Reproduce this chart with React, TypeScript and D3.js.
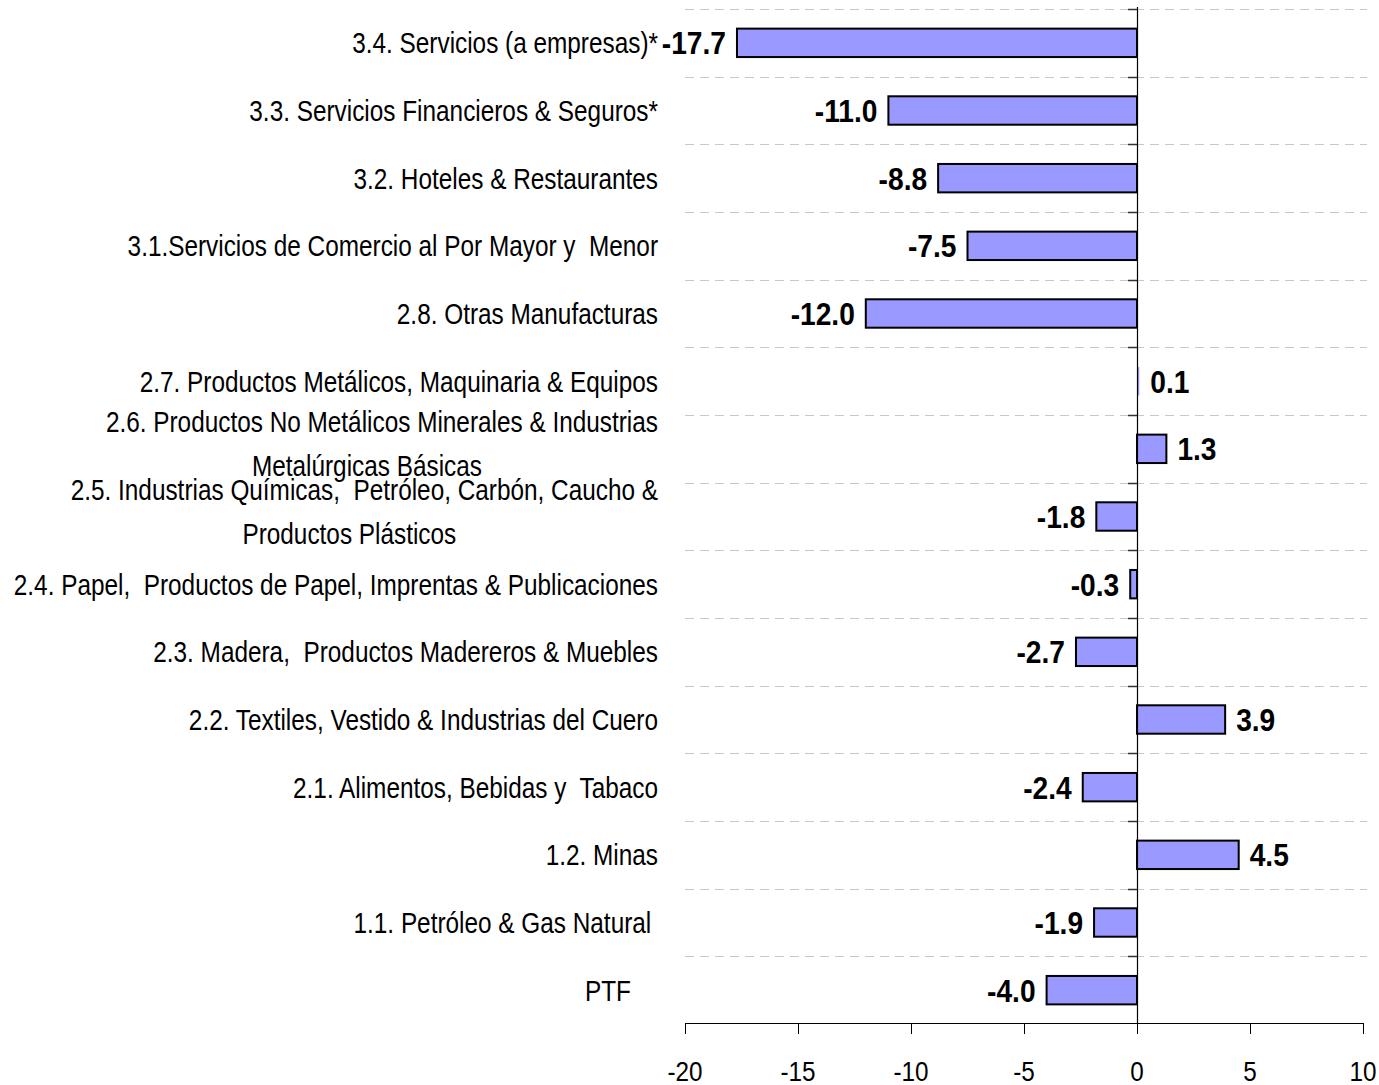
import React, { useEffect, useRef } from "react";
import * as d3 from "d3";

const categoryLines: string[][] = [
  ["3.4. Servicios (a empresas)*"],
  ["3.3. Servicios Financieros & Seguros*"],
  ["3.2. Hoteles & Restaurantes"],
  ["3.1.Servicios de Comercio al Por Mayor y  Menor"],
  ["2.8. Otras Manufacturas"],
  ["2.7. Productos Metálicos, Maquinaria & Equipos"],
  ["2.6. Productos No Metálicos Minerales & Industrias", "Metalúrgicas Básicas"],
  ["2.5. Industrias Químicas,  Petróleo, Carbón, Caucho &", "Productos Plásticos"],
  ["2.4. Papel,  Productos de Papel, Imprentas & Publicaciones"],
  ["2.3. Madera,  Productos Madereros & Muebles"],
  ["2.2. Textiles, Vestido & Industrias del Cuero"],
  ["2.1. Alimentos, Bebidas y  Tabaco"],
  ["1.2. Minas"],
  ["1.1. Petróleo & Gas Natural "],
  ["PTF    "],
];

const values: number[] = [
  -17.7, -11.0, -8.8, -7.5, -12.0, 0.1, 1.3, -1.8, -0.3, -2.7, 3.9, -2.4, 4.5, -1.9, -4.0,
];

const xTicks: number[] = [-20, -15, -10, -5, 0, 5, 10];
const xDomain: [number, number] = [-20, 10];

const W = 1379;
const H = 1085;
const FONT = "'Liberation Sans', Arial, sans-serif";

type TextOpts = {
  size: number;
  sx: number;
  anchor: "start" | "middle" | "end";
  weight?: string;
  pre?: boolean;
};

function addText(
  parent: d3.Selection<any, any, any, any>,
  x: number,
  y: number,
  str: string,
  o: TextOpts
) {
  const g = parent.append("g").attr("transform", `translate(${x},${y}) scale(${o.sx},1)`);
  const t = g
    .append("text")
    .attr("x", 0)
    .attr("y", 0)
    .attr("dy", "0.36em")
    .attr("text-anchor", o.anchor)
    .attr("font-family", FONT)
    .attr("font-size", o.size)
    .attr("font-weight", o.weight || "normal")
    .attr("fill", "#000")
    .text(str);
  if (o.pre) t.style("white-space", "pre");
  return t;
}

export default function App() {
  const ref = useRef<SVGSVGElement>(null);

  useEffect(() => {
    const svg = d3.select(ref.current);
    svg.selectAll("*").remove();

    const plotLeft = 685;
    const plotRight = 1363;
    const plotTop = 9;
    const plotBottom = 1024;
    const labelRight = 658;
    const catSize = 29;
    const catSx = 0.84;

    const x = d3.scaleLinear().domain(xDomain).range([plotLeft, plotRight]);
    const keys = categoryLines.map((_, i) => String(i));
    const y = d3.scaleBand<string>().domain(keys).range([plotTop, plotBottom]).padding(0);
    const bh = y.bandwidth() * 0.42;
    const x0 = x(0);

    // gridlines
    svg
      .append("g")
      .selectAll("line")
      .data(keys)
      .join("line")
      .attr("x1", plotLeft)
      .attr("x2", plotRight + 4)
      .attr("y1", (k) => Math.round(y(k)!) + 0.5)
      .attr("y2", (k) => Math.round(y(k)!) + 0.5)
      .attr("stroke", "#c8c8c8")
      .attr("stroke-width", 1)
      .attr("stroke-dasharray", "9,6");

    // bars
    svg
      .append("g")
      .selectAll("rect")
      .data(values)
      .join("rect")
      .attr("x", (v) => Math.min(x(v), x0))
      .attr("width", (v) => Math.abs(x(v) - x0))
      .attr("y", (_, i) => y(keys[i])! + y.bandwidth() / 2 - bh / 2)
      .attr("height", bh)
      .attr("fill", "#9999ff")
      .attr("stroke", (v) => (Math.abs(x(v) - x0) < 3 ? "none" : "#000"))
      .attr("stroke-width", 2);

    // vertical axis at zero
    svg
      .append("line")
      .attr("x1", x0 + 0.5)
      .attr("x2", x0 + 0.5)
      .attr("y1", plotTop - 2)
      .attr("y2", plotBottom)
      .attr("stroke", "#000")
      .attr("stroke-width", 1.2);
    svg
      .append("g")
      .selectAll("line")
      .data(keys)
      .join("line")
      .attr("x1", x0 - 9)
      .attr("x2", x0)
      .attr("y1", (k) => Math.round(y(k)!) + 0.5)
      .attr("y2", (k) => Math.round(y(k)!) + 0.5)
      .attr("stroke", "#333")
      .attr("stroke-width", 1.5);

    // x axis
    const ax = svg.append("g").attr("transform", `translate(0,${plotBottom - 1})`);
    ax.append("line")
      .attr("x1", plotLeft)
      .attr("x2", plotRight)
      .attr("y1", 0.5)
      .attr("y2", 0.5)
      .attr("stroke", "#000")
      .attr("stroke-width", 1.2);
    ax.selectAll("line.tick")
      .data(xTicks)
      .join("line")
      .attr("class", "tick")
      .attr("x1", (t) => x(t) + 0.5)
      .attr("x2", (t) => x(t) + 0.5)
      .attr("y1", 0)
      .attr("y2", 11)
      .attr("stroke", "#000")
      .attr("stroke-width", 1);
    xTicks.forEach((t) => {
      addText(ax, x(t), 48, String(t), { size: 27, sx: 0.9, anchor: "middle" });
    });

    // value labels
    const vg = svg.append("g");
    values.forEach((v, i) => {
      const cy = y(keys[i])! + y.bandwidth() / 2;
      addText(vg, v < 0 ? x(v) - 11 : x(v) + 11, cy, v.toFixed(1), {
        size: 32,
        sx: 0.88,
        anchor: v < 0 ? "end" : "start",
        weight: "bold",
      });
    });

    // category labels
    const cg = svg.append("g");
    categoryLines.forEach((lines, i) => {
      const cy = y(keys[i])! + y.bandwidth() / 2;
      if (lines.length === 1) {
        addText(cg, labelRight, cy, lines[0], { size: catSize, sx: catSx, anchor: "end", pre: true });
      } else {
        const first = addText(cg, labelRight, cy - 27, lines[0], {
          size: catSize,
          sx: catSx,
          anchor: "end",
          pre: true,
        });
        const len = (first.node() as SVGTextElement).getComputedTextLength() * catSx;
        const center = labelRight - len / 2 - 15;
        addText(cg, center, cy + 17, lines[1], { size: catSize, sx: catSx, anchor: "middle" });
      }
    });
  }, []);

  return (
    <svg
      ref={ref}
      width={W}
      height={H}
      style={{ position: "absolute", left: 0, top: 0, background: "#fff" }}
    />
  );
}
